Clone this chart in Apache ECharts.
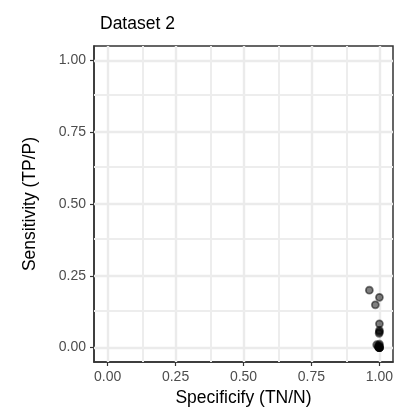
<!DOCTYPE html>
<html>
<head>
<meta charset="utf-8">
<script src="https://cdn.jsdelivr.net/npm/echarts@6/dist/echarts.min.js"></script>
<style>html,body{margin:0;padding:0;background:#fff}#c{width:394px;height:409px}</style>
</head>
<body>
<div id="c"></div>
<script>
var chartTitle = "Dataset 2";
var xTitle = "Specificify (TN/N)";
var yTitle = "Sensitivity (TP/P)";
var tickValues = [0, 0.25, 0.5, 0.75, 1];
var minorValues = [0.125, 0.375, 0.625, 0.875];
var specificity = [0.963, 1.0, 0.985, 1.0, 1.0, 0.999, 1.0, 0.99, 0.995, 1.0, 1.0, 1.0, 0.998, 1.0, 1.0, 0.997, 1.0];
var sensitivity = [0.20, 0.175, 0.149, 0.083, 0.06, 0.05, 0.055, 0.01, 0.005, 0.0, 0.0, 0.0, 0.0, 0.012, 0.0, 0.003, 0.007];

var pts = specificity.map(function (x, i) { return [x, sensitivity[i]]; });
var font = "'Liberation Sans', Arial, sans-serif";

function axisCommon(name, isX) {
  return {
    type: 'value', min: -0.05, max: 1.05,
    name: name, nameLocation: 'middle',
    nameGap: isX ? 27 : 55,
    nameTextStyle: { fontFamily: font, fontSize: 17.5, color: '#000' },
    axisLine: { show: true, onZero: false, lineStyle: { color: '#333', width: 1.5 } },
    axisTick: { show: true, length: 4, lineStyle: { color: '#333', width: 1.2 },
      customValues: tickValues },
    axisLabel: { fontFamily: font, fontSize: 14, color: '#4D4D4D', margin: 8,
      customValues: tickValues,
      formatter: function (v) { return v.toFixed(2); } },
    splitLine: { show: false },
    minorTick: { show: false },
    minorSplitLine: { show: false }
  };
}

var gridLines = [];
tickValues.forEach(function (v) {
  gridLines.push({ xAxis: v, lineStyle: { color: '#EBEBEB', width: 2.4, type: 'solid' } });
  gridLines.push({ yAxis: v, lineStyle: { color: '#EBEBEB', width: 2.4, type: 'solid' } });
});
minorValues.forEach(function (v) {
  gridLines.push({ xAxis: v, lineStyle: { color: '#EDEDED', width: 2, type: 'solid' } });
  gridLines.push({ yAxis: v, lineStyle: { color: '#EDEDED', width: 2, type: 'solid' } });
});

var chart = echarts.init(document.getElementById('c'), null, { renderer: 'canvas' });
chart.setOption({
  animation: false,
  title: { text: chartTitle, left: 95, top: 10,
    textStyle: { fontFamily: font, fontSize: 17.5, fontWeight: 'normal', color: '#000' } },
  grid: { left: 94, top: 46, right: 1, bottom: 47, show: true, borderColor: '#333', borderWidth: 1.5,
    backgroundColor: 'transparent', containLabel: false, outerBoundsMode: 'none' },
  xAxis: axisCommon(xTitle, true),
  yAxis: axisCommon(yTitle, false),
  series: [{
    type: 'scatter', data: [], silent: true, z: 1,
    markLine: { silent: true, symbol: 'none', label: { show: false }, animation: false, data: gridLines }
  }, {
    type: 'scatter', data: pts, symbol: 'circle', symbolSize: 7, z: 5,
    itemStyle: { color: 'rgba(0,0,0,0.5)', borderColor: 'rgba(0,0,0,0.5)', borderWidth: 1.8, opacity: 1 },
    clip: false
  }]
});
</script>
</body>
</html>
